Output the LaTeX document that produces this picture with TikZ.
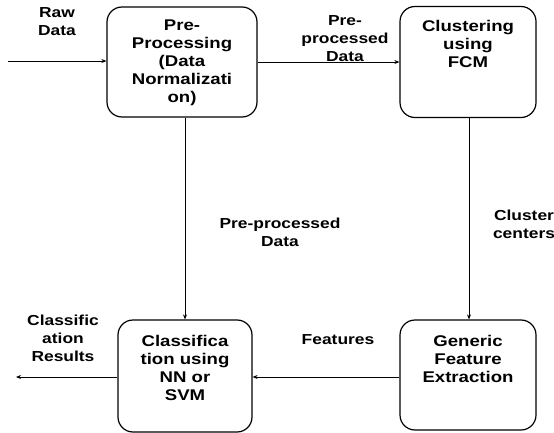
\documentclass[tikz,border=0pt]{standalone}
\usepackage{fontspec}
\setmainfont{Liberation Sans}[FakeStretch=1.2]
\usetikzlibrary{arrows.meta,positioning}

\tikzset{
  stage/.style={draw, line width=1.2pt, rounded corners=15pt, inner sep=0pt},
  stagetext/.style={anchor=north, align=center, inner sep=0pt,
    font=\fontsize{15.5}{18}\selectfont\bfseries},
  flowlabel/.style={align=center, inner sep=0pt,
    font=\fontsize{14.5}{18}\selectfont\bfseries},
  flow/.style={line width=0.8pt, -{Stealth[length=5pt,width=4pt]}}
}

\begin{document}
\begin{tikzpicture}[x=1pt, y=-1pt]
  \useasboundingbox (0,0) rectangle (554,433);

  % the four stages
  \node[stage, minimum width=150pt, minimum height=110pt] (pre) at (182,62) {};
  \node[stage, minimum width=136pt, minimum height=111pt] (clu) at (468,62) {};
  \node[stage, minimum width=134pt, minimum height=112pt] (cls) at (185,376) {};
  \node[stage, minimum width=136pt, minimum height=110pt] (gen) at (468,375) {};

  \node[stagetext, below=13pt of pre.north] (pretext) {Pre-\\Processing\\(Data\\Normalizati\\on)};
  \node[stagetext, below=14pt of clu.north] (clutext) {Clustering\\using\\FCM};
  \node[stagetext, below=16pt of cls.north] (clstext) {Classifica\\tion using\\NN or\\SVM};
  \node[stagetext, below=16pt of gen.north] (gentext) {Generic\\Feature\\Extraction};

  % in and out
  \coordinate (rawin) at (8,61);
  \coordinate (resout) at (16,377);

  \draw[flow] (rawin) -- (rawin -| pre.west);
  \draw[flow] (pre.east |- 0,62) -- (clu.west |- 0,62);
  \draw[flow] (pre.south -| 185,0) -- (cls.north -| 185,0);
  \draw[flow] (clu.south -| 469,0) -- (gen.north -| 469,0);
  \draw[flow] (gen.west |- 0,377) -- (cls.east |- 0,377);
  \draw[flow] (cls.west |- resout) -- (resout);

  % labels on the flows
  \node[flowlabel] (rawlabel) at (57,22) {Raw\\Data};
  \node[flowlabel] (toplabel) at (345,39) {Pre-\\processed\\Data};
  \node[flowlabel] (midlabel) at (280,232) {Pre-processed\\Data};
  \node[flowlabel] (cenlabel) at (524,224) {Cluster\\centers};
  \node[flowlabel] (featlabel) at (338,340) {Features};
  \node[flowlabel] (reslabel) at (63,338) {Classific\\ation\\Results};
\end{tikzpicture}
\end{document}
